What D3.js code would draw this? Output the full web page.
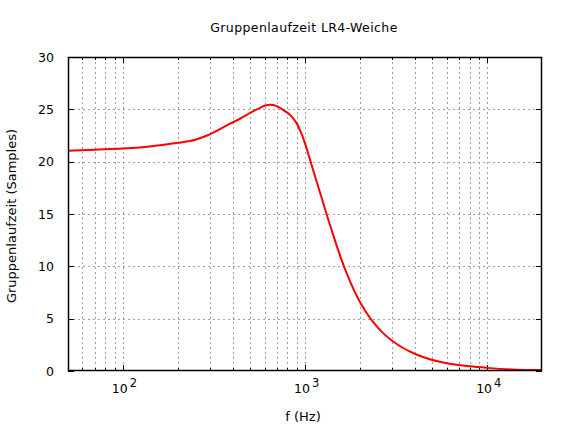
<!DOCTYPE html>
<html><head><meta charset="utf-8">
<script src="https://cdn.jsdelivr.net/npm/d3@7"></script>
<style>
body{margin:0;background:#fff}
svg{display:block}
text{font-family:"DejaVu Sans",sans-serif;fill:#000}
</style>
</head><body><svg id="c" width="576" height="432"></svg>
<script>
const title = "Gruppenlaufzeit LR4-Weiche";
const xLabel = "f (Hz)";
const yLabel = "Gruppenlaufzeit (Samples)";
const freqs  = [50, 70, 100, 140, 200, 250, 290, 390, 440, 500, 570, 605, 645, 700, 765, 830, 890, 945, 1000, 1100, 1260, 1410, 1570, 1710, 2020, 2300, 2660, 3020, 3400, 4060, 4900, 6000, 8000, 10000, 14500, 20000];
const delays = [21.05, 21.15, 21.25, 21.45, 21.8, 22.1, 22.5, 23.65, 24.1, 24.66, 25.17, 25.37, 25.43, 25.3, 24.9, 24.45, 23.8, 22.9, 21.75, 19.38, 16.02, 13.29, 10.86, 9.15, 6.47, 4.95, 3.69, 2.86, 2.27, 1.6, 1.1, 0.75, 0.45, 0.3, 0.13, 0.1];
const yTicks = [0, 5, 10, 15, 20, 25, 30];
const xMajor = [100, 1000, 10000];
const xExp   = ["2", "3", "4"];

const L = 68, R = 542, T = 57, B = 371;
const svg = d3.select("#c");
const x = d3.scaleLog().domain([50, 20000]).range([L, R]);
const y = d3.scaleLinear().domain([0, 30]).range([B, T]);

const xMinor = [];
for (const dec of [10, 100, 1000, 10000]) for (let k = 1; k <= 9; k++) {
  const v = k * dec; if (v > 50 && v < 20000 && !xMajor.includes(v)) xMinor.push(v);
}
const grid = svg.append("g").attr("stroke", "#a0a0a0").attr("stroke-width", 1).attr("stroke-dasharray", "2,3");
[...xMinor, ...xMajor].forEach(v => {
  const px = Math.round(x(v)) + 0.5;
  grid.append("line").attr("x1", px).attr("x2", px).attr("y1", T).attr("y2", B);
});
yTicks.filter(v => v > 0 && v < 30).forEach(v => {
  const py = Math.round(y(v)) + 0.5;
  grid.append("line").attr("x1", L).attr("x2", R).attr("y1", py).attr("y2", py);
});

const tk = svg.append("g").attr("stroke", "#000").attr("stroke-width", 1);
yTicks.forEach(v => {
  const py = Math.round(y(v)) + 0.5;
  tk.append("line").attr("x1", L).attr("x2", L + 6).attr("y1", py).attr("y2", py);
  tk.append("line").attr("x1", R - 6).attr("x2", R).attr("y1", py).attr("y2", py);
});
xMajor.forEach(v => {
  const px = Math.round(x(v)) + 0.5;
  tk.append("line").attr("x1", px).attr("x2", px).attr("y1", B).attr("y2", B - 6);
  tk.append("line").attr("x1", px).attr("x2", px).attr("y1", T).attr("y2", T + 6);
});
xMinor.forEach(v => {
  const px = Math.round(x(v)) + 0.5;
  tk.append("line").attr("x1", px).attr("x2", px).attr("y1", B).attr("y2", B - 3);
  tk.append("line").attr("x1", px).attr("x2", px).attr("y1", T).attr("y2", T + 3);
});

const line = d3.line().x((d, i) => x(freqs[i])).y(d => y(d)).curve(d3.curveMonotoneX);
svg.append("path").datum(delays).attr("d", line).attr("fill", "none")
  .attr("stroke", "#ff0000").attr("stroke-width", 2);

svg.append("rect").attr("x", L + 0.5).attr("y", T + 0.5).attr("width", R - L - 1).attr("height", B - T - 1)
  .attr("fill", "none").attr("stroke", "#000").attr("stroke-width", 1.5);

yTicks.forEach(v => {
  svg.append("text").attr("x", 54).attr("y", y(v) + 4.5).attr("text-anchor", "end")
    .attr("font-size", 12.5).text(v);
});
xMajor.forEach((v, i) => {
  const t = svg.append("text").attr("x", x(v) - 11).attr("y", 393).attr("font-size", 12.5);
  t.append("tspan").text("10");
  t.append("tspan").attr("dx", 2).attr("dy", -6).attr("font-size", 11.5).text(xExp[i]);
});

svg.append("text").attr("x", 304).attr("y", 32).attr("text-anchor", "middle").attr("font-size", 12.5)
  .attr("letter-spacing", 0.4).text(title);
svg.append("text").attr("x", 303).attr("y", 421).attr("text-anchor", "middle").attr("font-size", 13)
  .text(xLabel);
svg.append("text").attr("transform", "translate(16,216) rotate(-90)").attr("text-anchor", "middle")
  .attr("font-size", 13).text(yLabel);
</script>
</body></html>
